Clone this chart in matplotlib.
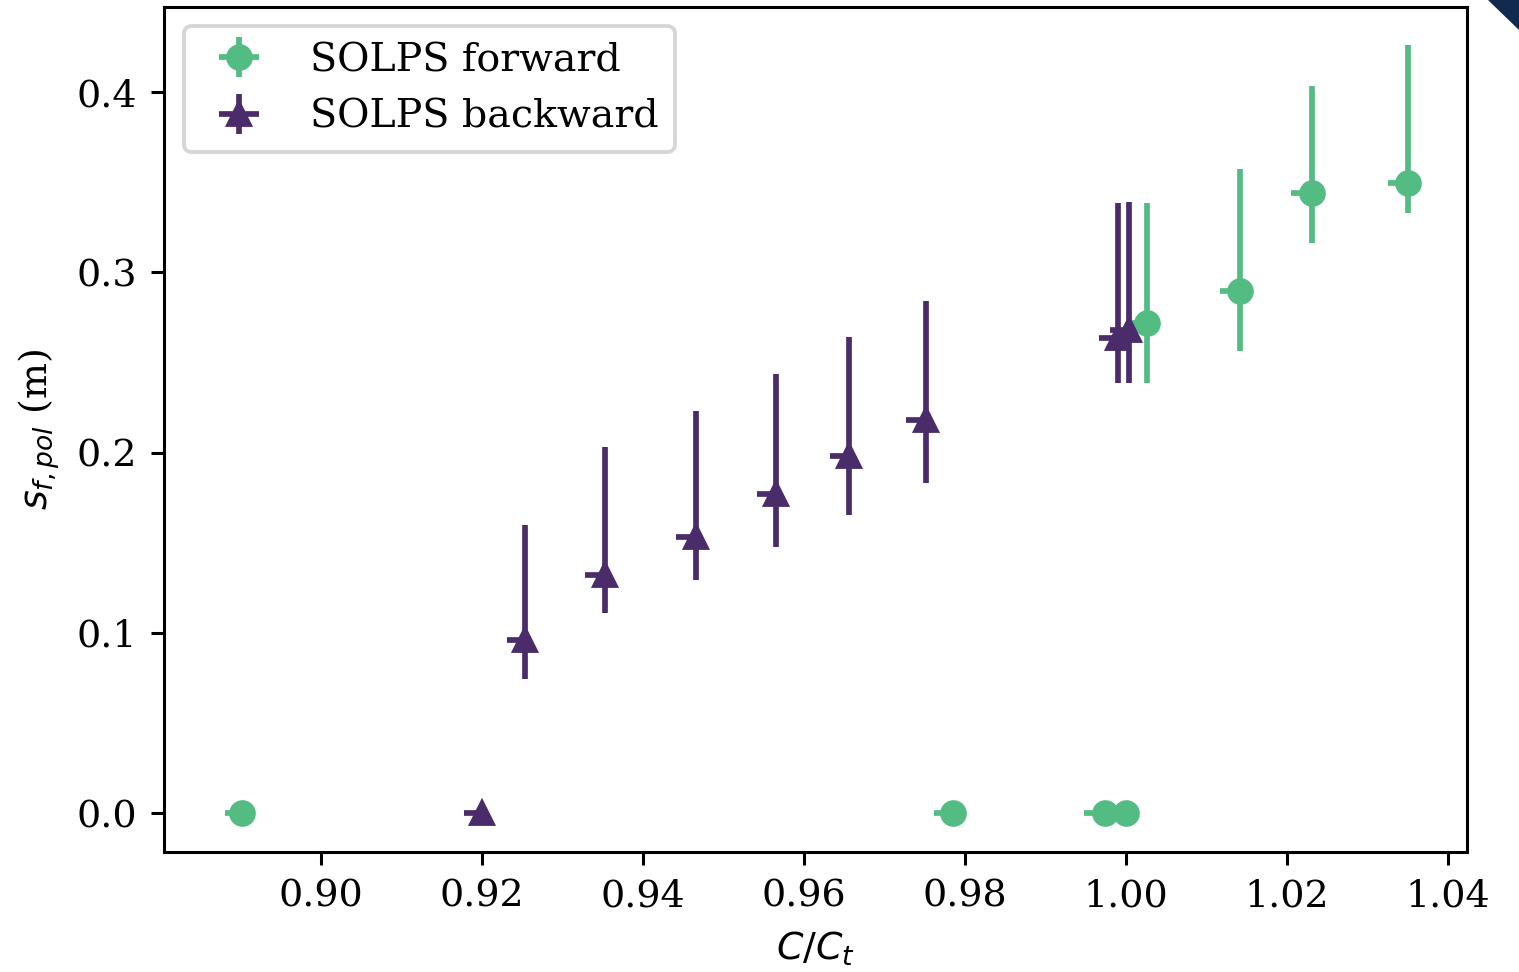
import matplotlib
matplotlib.use("Agg")
import matplotlib.pyplot as plt
from matplotlib.patches import Polygon
import numpy as np

plt.rcParams["font.family"] = "DejaVu Serif"
plt.rcParams["mathtext.fontset"] = "dejavusans"
plt.rcParams["font.size"] = 10

# SOLPS forward scan
fwd_x = [0.8902, 0.9785, 0.9974, 1.0000, 1.0026, 1.0141, 1.0231, 1.0350]
fwd_y = [0.0, 0.0, 0.0, 0.0, 0.2721, 0.2899, 0.3442, 0.3497]
fwd_y_lo = [0.0, 0.0, 0.0, 0.0, 0.2388, 0.2566, 0.3165, 0.3328]
fwd_y_hi = [0.0, 0.0, 0.0, 0.0, 0.3383, 0.3573, 0.4034, 0.4261]
fwd_xerr = [0.0022, 0.0024, 0.0026, 0.0025, 0.0025, 0.0025, 0.0026, 0.0025]

# SOLPS backward scan
bwd_x = [0.9200, 0.9253, 0.9352, 0.9465, 0.9565, 0.9656, 0.9751, 0.9990, 1.0004]
bwd_y = [0.0, 0.0961, 0.1323, 0.1531, 0.1771, 0.1982, 0.2182, 0.2634, 0.2679]
bwd_y_lo = [0.0, 0.0747, 0.1111, 0.1292, 0.1477, 0.1654, 0.1834, 0.2388, 0.2388]
bwd_y_hi = [0.0, 0.1599, 0.2030, 0.2231, 0.2435, 0.2640, 0.2841, 0.3383, 0.3389]
bwd_xerr = [0.0023, 0.0022, 0.0024, 0.0024, 0.0024, 0.0024, 0.0024, 0.0024, 0.0024]

green = "#53bc83"
purple = "#4a2c6a"

dpi = 274
fig = plt.figure(figsize=(1519 / dpi, 972 / dpi), dpi=dpi)
ax = fig.add_axes([0.1080, 0.1238, 0.8575, 0.8695])


def err_arrays(y, lo, hi, xe):
    y = np.asarray(y)
    yerr = np.vstack([y - np.asarray(lo), np.asarray(hi) - y])
    yerr = np.clip(yerr, 0, None)
    xerr = np.vstack([np.asarray(xe), np.zeros(len(xe))])
    return xerr, yerr


xe, ye = err_arrays(fwd_y, fwd_y_lo, fwd_y_hi, fwd_xerr)
ax.errorbar(fwd_x, fwd_y, xerr=xe, yerr=ye, fmt="o", color=green,
            label="SOLPS forward")
xe, ye = err_arrays(bwd_y, bwd_y_lo, bwd_y_hi, bwd_xerr)
ax.errorbar(bwd_x, bwd_y, xerr=xe, yerr=ye, fmt="^", color=purple,
            label="SOLPS backward")

ax.set_xlim(0.88048, 1.04229)
ax.set_ylim(-0.0213, 0.4475)
ax.set_xticks([0.90, 0.92, 0.94, 0.96, 0.98, 1.00, 1.02, 1.04])
ax.set_yticks([0.0, 0.1, 0.2, 0.3, 0.4])
ax.set_xlabel(r"$C/C_t$")
ax.set_ylabel(r"$s_{f,pol}$ (m)")

ax.legend(loc="upper left", fontsize=10.4)

# corner decoration
fig.patches.append(Polygon([[1488 / 1519, 1.0], [1.0, 1.0], [1.0, 1 - 30 / 972]],
                           closed=True, transform=fig.transFigure,
                           facecolor="#132a4f", edgecolor="none"))

fig.savefig("out.png", dpi=dpi)
